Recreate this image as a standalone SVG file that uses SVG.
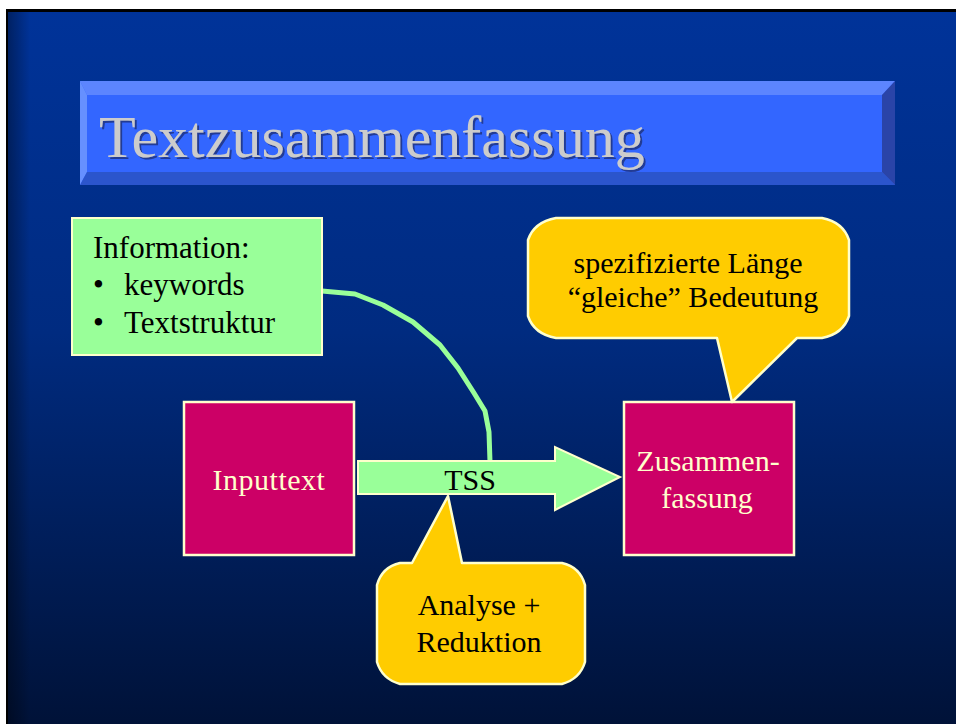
<svg xmlns="http://www.w3.org/2000/svg" width="956" height="724" viewBox="0 0 956 724">
  <defs>
    <linearGradient id="bg" x1="0" y1="0" x2="0" y2="1">
      <stop offset="0" stop-color="#003399"/>
      <stop offset="0.45" stop-color="#002b80"/>
      <stop offset="1" stop-color="#001238"/>
    </linearGradient>
    <linearGradient id="edge" x1="0" y1="0" x2="1" y2="0">
      <stop offset="0" stop-color="#000000" stop-opacity="0.35"/>
      <stop offset="1" stop-color="#000000" stop-opacity="0"/>
    </linearGradient>
    <filter id="shadow" x="-5%" y="-20%" width="110%" height="140%">
      <feDropShadow dx="2" dy="2" stdDeviation="0.6" flood-color="#1a2a66" flood-opacity="0.7"/>
    </filter>
    <style>
      .serif { font-family: "Liberation Serif", "Times New Roman", serif; }
      .note { fill: #99ff99; stroke: #ffffcc; stroke-width: 2; }
      .block { fill: #cc0066; stroke: #ffffcc; stroke-width: 2.5; }
      .callout { fill: #ffcc00; stroke: #ffffcc; stroke-width: 2.5; stroke-linejoin: round; }
      .dark { fill: #000000; font-size: 30px; }
      .light { fill: #ffffcc; font-size: 30px; }
      .link { fill: none; stroke: #99ff99; stroke-width: 5; stroke-linejoin: round; }
    </style>
  </defs>

  <!-- page and slide background -->
  <rect x="0" y="0" width="956" height="724" fill="#ffffff"/>
  <rect x="6" y="9" width="950" height="715" fill="#000000"/>
  <rect x="8" y="12" width="948" height="712" fill="url(#bg)"/>
  <rect x="8" y="12" width="22" height="712" fill="url(#edge)"/>

  <!-- title bar with bevel -->
  <g id="title">
    <rect x="80" y="81" width="815" height="104" fill="#3366ff"/>
    <polygon points="80,81 895,81 882,95 87,95" fill="#5c85ff"/>
    <polygon points="80,81 87,95 87,172 80,185" fill="#6690ff"/>
    <polygon points="80,185 87,172 882,172 895,185" fill="#2b55cc"/>
    <polygon points="895,81 882,95 882,172 895,185" fill="#2a44a8"/>
    <text x="99" y="157" class="serif" font-size="60" fill="#cccccc" filter="url(#shadow)">Textzusammenfassung</text>
  </g>

  <!-- connectors -->
  <g id="connectors">
    <path class="link" d="M322,291 L355,294 L383,305 L413,322 L440,345 L458,368 L474,393 L485,411 L489,432 L490,462"/>
  </g>

  <!-- information note -->
  <g id="information">
    <rect class="note" x="72" y="218" width="250" height="137"/>
    <text class="serif" x="93" y="258" font-size="31">Information:</text>
    <text class="serif" x="93" y="295" font-size="31">•</text>
    <text class="serif" x="124" y="295" font-size="31">keywords</text>
    <text class="serif" x="93" y="333" font-size="31">•</text>
    <text class="serif" x="124" y="333" font-size="31">Textstruktur</text>
  </g>

  <!-- input block -->
  <g id="inputtext">
    <rect class="block" x="184" y="402" width="170" height="153"/>
    <text class="serif light" x="269" y="490" text-anchor="middle" letter-spacing="0.5">Inputtext</text>
  </g>

  <!-- TSS arrow -->
  <g id="tss">
    <polygon class="note" points="358,461 555,461 555,447 620,477 555,510 555,494 358,494"/>
    <text class="serif dark" x="470" y="490" text-anchor="middle">TSS</text>
  </g>

  <!-- summary block -->
  <g id="zusammenfassung">
    <rect class="block" x="624" y="402" width="170" height="153"/>
    <text class="serif light" x="708" y="471" text-anchor="middle">Zusammen-</text>
    <text class="serif light" x="707" y="508" text-anchor="middle">fassung</text>
  </g>

  <!-- callout above the summary -->
  <g id="laenge">
    <path class="callout" d="M556,218 L822,218 Q843,222 849,240 L849,316 Q843,334 822,338 L797,338 L732,402 L717,338 L556,338 Q534,334 528,316 L528,240 Q534,222 556,218 Z"/>
    <text class="serif dark" x="688" y="273" text-anchor="middle">spezifizierte Länge</text>
    <text class="serif dark" x="693" y="307" text-anchor="middle">“gleiche” Bedeutung</text>
  </g>

  <!-- callout below the arrow -->
  <g id="analyse">
    <path class="callout" d="M400,563 L412,563 L448,496 L462,563 L562,563 Q580,567 585,585 L585,662 Q580,679 562,684 L400,684 Q382,679 377,662 L377,585 Q382,567 400,563 Z"/>
    <text class="serif dark" x="479" y="615" text-anchor="middle">Analyse +</text>
    <text class="serif dark" x="479" y="652" text-anchor="middle">Reduktion</text>
  </g>
</svg>
